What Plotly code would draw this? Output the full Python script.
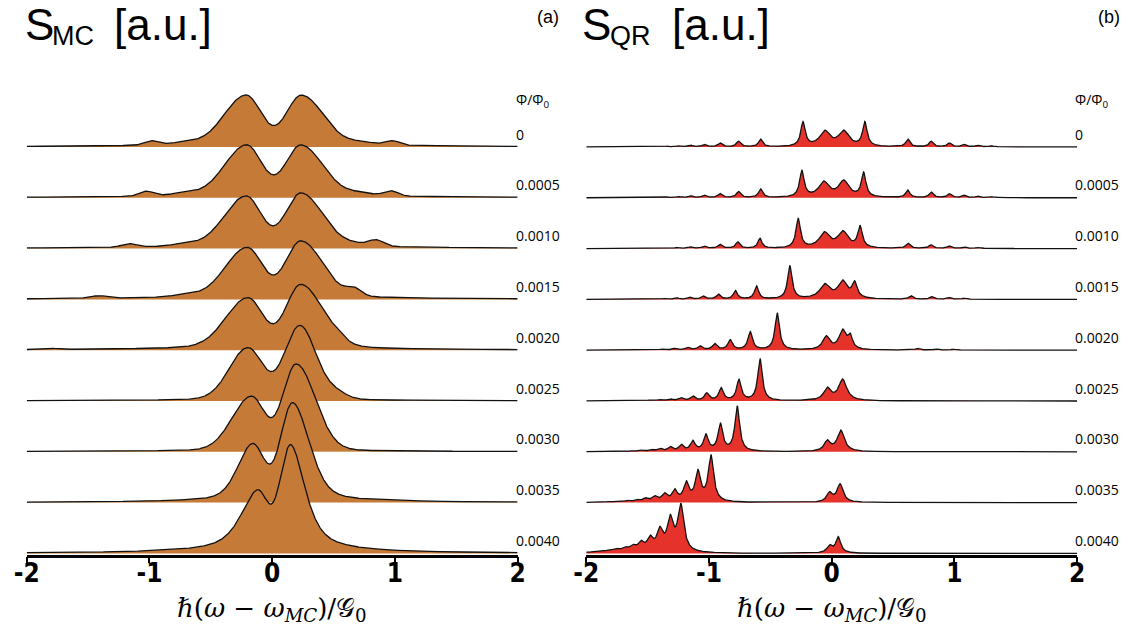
import numpy as np
import plotly.graph_objects as go

# ---------------- data ----------------
flux_labels = ["0", "0.0005", "0.0010", "0.0015", "0.0020", "0.0025", "0.0030", "0.0035", "0.0040"]
tick_vals = [-2, -1, 0, 1, 2]
tick_text = ["-2", "-1", "0", "1", "2"]

# S_MC spectra (one entry per flux row): two main lines, each with an outer and inner half-width
mc_peak_pos = [[-0.214, 0.240], [-0.210, 0.235], [-0.214, 0.235], [-0.205, 0.235], [-0.200, 0.235],
               [-0.200, 0.226], [-0.170, 0.196], [-0.160, 0.166], [-0.120, 0.150]]
mc_peak_amp = [[46.5, 46.5], [47.5, 47.5], [47.2, 50.3], [46.5, 53.2], [47.0, 60.5],
               [50.5, 72.8], [52.6, 85.0], [55.0, 96.0], [59.0, 104.5]]
mc_outer_hw = [[0.206, 0.206], [0.206, 0.206], [0.206, 0.206], [0.206, 0.206], [0.206, 0.206],
               [0.174, 0.153], [0.182, 0.182], [0.140, 0.160], [0.160, 0.140]]
mc_inner_hw = [0.141, 0.141, 0.141, 0.141, 0.141, 0.144, 0.127, 0.114, 0.102]
mc_outer_eta = [0.0, 0.0, 0.0, 0.0, 0.0, 0.0, 0.0, 0.3, 0.7]
mc_background = [6, 6, 6, 6, 6, 3, 3, 4, 4]
mc_bump_pos = [[-0.98, 0.98, -0.72, 0.74], [-1.026, 0.968, -0.72, 0.72], [-1.167, 0.848, -0.72, 0.70],
               [-1.416, 0.666, -0.72], [-1.83, 0.534], [0.52], [], [], []]
mc_bump_amp = [[4.3, 4.3, 2.0, 2.0], [4.7, 5.0, 2.0, 2.0], [3.4, 5.9, 2.0, 1.5],
               [2.5, 7.0, 1.8], [1.5, 3.5], [6.0], [], [], []]
mc_bump_hw = [[0.065, 0.065, 0.12, 0.12], [0.065, 0.065, 0.12, 0.12], [0.07, 0.07, 0.12, 0.12],
              [0.08, 0.07, 0.12], [0.08, 0.07], [0.106], [], [], []]

# S_QR spectra: Lorentzian line centres, heights and half-widths per flux row
qr_centers = [
    [-0.234, -0.056, 0.098, 0.27, -0.58, -0.76, -0.91, -1.04, -1.15, -1.25, -1.34, 0.62, 0.81, 0.96, 1.08, 1.19, 1.30, 1.40],
    [-0.243, -0.065, 0.098, 0.26, -0.58, -0.76, -0.91, -1.04, -1.15, -1.25, -1.34, 0.62, 0.81, 0.96, 1.08, 1.19, 1.30, 1.40],
    [-0.273, -0.059, 0.092, 0.231, -0.585, -0.766, -0.91, -1.04, -1.15, -1.26, -1.36, 0.622, 0.808, 0.957, 1.08, 1.19, 1.30],
    [-0.341, -0.056, 0.089, 0.187, -0.613, -0.785, -0.924, -1.049, -1.156, -1.26, -1.36, -1.45, 0.646, 0.818, 0.957, 1.08, 1.19],
    [-0.444, -0.664, -0.827, -0.954, -1.073, -1.176, -1.28, -1.38, -1.47, -0.044, 0.089, 0.151, 0.70, 0.853, 0.99, 1.12],
    [-0.584, -0.756, -0.901, -1.019, -1.132, -1.227, -1.316, -1.40, -1.48, -1.56, -0.036, 0.089, 0.79, 0.94, 1.06],
    [-0.770, -0.907, -1.025, -1.132, -1.227, -1.316, -1.40, -1.47, -1.55, -1.62, -1.69, -0.036, 0.074],
    [-0.984, -1.09, -1.185, -1.28, -1.363, -1.443, -1.517, -1.59, -1.665, -1.74, -1.81, -1.88, -0.018, 0.068],
    [-1.23, -1.316, -1.40, -1.479, -1.553, -1.621, -1.686, -1.754, -1.813, -1.873, -1.93, -1.99, -0.018, 0.053],
]
qr_heights = [
    [24, 15, 15, 24, 7.5, 5.5, 3.8, 2.4, 1.7, 1.1, 0.7, 7.5, 5.5, 3.8, 2.4, 1.7, 1.1, 0.7],
    [26, 15, 16, 24, 8.5, 6.0, 4.0, 2.6, 1.8, 1.1, 0.7, 7.5, 5.5, 3.8, 2.4, 1.6, 1.0, 0.6],
    [29, 15, 16, 21, 10, 6.5, 4.0, 2.5, 1.6, 1.0, 0.6, 5.0, 3.5, 2.5, 1.6, 1.1, 0.7],
    [33, 14, 17, 15, 13, 8.5, 5.0, 3.3, 2.0, 1.3, 0.8, 0.5, 3.5, 2.5, 1.8, 1.1, 0.7],
    [37, 18, 10, 6.3, 4.0, 2.5, 1.6, 1.0, 0.6, 13, 19, 12, 1.8, 1.3, 1.0, 0.7],
    [42, 21, 12.5, 7.3, 4.5, 2.8, 1.9, 1.2, 0.8, 0.5, 12, 21, 0.8, 0.8, 0.6],
    [45, 27, 16, 10, 6.3, 4.3, 2.8, 1.9, 1.3, 0.8, 0.5, 10, 21],
    [46, 29, 18, 11, 7.5, 5.0, 3.4, 2.3, 1.5, 1.0, 0.7, 0.5, 9, 18],
    [46, 31, 20, 12.5, 8.5, 5.5, 4.0, 2.8, 2.0, 1.4, 1.0, 0.8, 7, 16],
]
qr_widths = [
    [0.022, 0.05, 0.05, 0.022, 0.02, 0.02, 0.02, 0.02, 0.02, 0.02, 0.02, 0.02, 0.02, 0.02, 0.02, 0.02, 0.02, 0.02],
    [0.022, 0.05, 0.05, 0.022, 0.02, 0.02, 0.02, 0.02, 0.02, 0.02, 0.02, 0.02, 0.02, 0.02, 0.02, 0.02, 0.02, 0.02],
    [0.022, 0.05, 0.05, 0.022, 0.02, 0.02, 0.02, 0.02, 0.02, 0.02, 0.02, 0.02, 0.02, 0.02, 0.02, 0.02, 0.02],
    [0.022, 0.05, 0.045, 0.025, 0.02, 0.02, 0.02, 0.02, 0.02, 0.02, 0.02, 0.02, 0.02, 0.02, 0.02, 0.02, 0.02],
    [0.022, 0.022, 0.022, 0.022, 0.022, 0.022, 0.022, 0.022, 0.022, 0.035, 0.035, 0.022, 0.02, 0.02, 0.02, 0.02],
    [0.022, 0.022, 0.022, 0.022, 0.022, 0.022, 0.022, 0.022, 0.022, 0.022, 0.035, 0.04, 0.02, 0.02, 0.02],
    [0.023, 0.023, 0.023, 0.023, 0.023, 0.023, 0.023, 0.023, 0.023, 0.023, 0.023, 0.03, 0.035],
    [0.026, 0.026, 0.026, 0.026, 0.026, 0.026, 0.026, 0.026, 0.026, 0.026, 0.026, 0.026, 0.028, 0.03],
    [0.03, 0.03, 0.03, 0.03, 0.03, 0.03, 0.03, 0.03, 0.03, 0.03, 0.03, 0.03, 0.025, 0.025],
]

# ---------------- layout constants ----------------
W, H = 1145, 634
AXIS_PX = 554.5        # pixel row of the x axis line
TOP_BASE = 407.5       # data height of first baseline above the axis
ROW_STEP = 50.8
LEFT_DOM = (14.0, 514.0)
RIGHT_DOM = (584.0, 1084.0)
MC_FILL = "#C57A37"
QR_FILL = "#E5332B"
LN2 = np.log(2.0)

x = np.linspace(-2, 2, 2401)


def mc_profile(k):
    y = mc_background[k] / (1.0 + (x / 0.7) ** 2)
    for c, a, hwo in zip(mc_peak_pos[k], mc_peak_amp[k], mc_outer_hw[k]):
        d = x - c
        to = d / hwo
        outer = mc_outer_eta[k] / (1 + to ** 2) + (1 - mc_outer_eta[k]) * np.exp(-LN2 * to ** 2)
        inner = np.exp(-LN2 * (d / mc_inner_hw[k]) ** 2)
        is_outer = (d < 0) if c < 0 else (d > 0)
        y += a * np.where(is_outer, outer, inner)
    for c, a, hw in zip(mc_bump_pos[k], mc_bump_amp[k], mc_bump_hw[k]):
        y += a * np.exp(-LN2 * ((x - c) / hw) ** 2)
    return y


def qr_profile(k):
    y = np.zeros_like(x)
    for c, h, w in zip(qr_centers[k], qr_heights[k], qr_widths[k]):
        y += h / (1.0 + ((x - c) / w) ** 2)
    return y


fig = go.Figure()


def add_panel(profile, nrows, fill, xa, ya):
    for k in range(nrows):
        base = TOP_BASE - k * ROW_STEP
        y = base + profile(k)
        fig.add_trace(go.Scatter(
            x=np.concatenate([x, x[::-1]]),
            y=np.concatenate([y, np.full_like(x, base)]),
            fill="toself", fillcolor=fill, mode="lines",
            line=dict(width=0, color=fill), hoverinfo="skip",
            showlegend=False, xaxis=xa, yaxis=ya))
        fig.add_trace(go.Scatter(
            x=x, y=y, mode="lines",
            line=dict(width=1.3, color="#111111"), hoverinfo="skip",
            showlegend=False, xaxis=xa, yaxis=ya))


add_panel(mc_profile, len(flux_labels), MC_FILL, "x", "y")
add_panel(qr_profile, len(flux_labels), QR_FILL, "x2", "y2")

tick_font = dict(family="Liberation Sans Narrow, DejaVu Sans Condensed, Arial Narrow, sans-serif",
                 size=26, color="black", weight="bold")
xcommon = dict(range=[-2, 2], tickvals=tick_vals, ticktext=tick_text, showline=True,
               linecolor="black", linewidth=2.5, ticks="outside", ticklen=6, tickwidth=2,
               tickcolor="black", showgrid=False, zeroline=False, tickfont=tick_font,
               ticklabelstandoff=-12, fixedrange=True)
ydom = [(H - AXIS_PX) / H, 1.0]
ycommon = dict(range=[0, AXIS_PX], visible=False, showgrid=False, zeroline=False, fixedrange=True)

fig.update_layout(
    width=W, height=H,
    margin=dict(l=0, r=0, t=0, b=0),
    paper_bgcolor="white", plot_bgcolor="white",
    xaxis=dict(domain=[LEFT_DOM[0] / W, LEFT_DOM[1] / W], anchor="y", **xcommon),
    yaxis=dict(domain=ydom, anchor="x", **ycommon),
    xaxis2=dict(domain=[RIGHT_DOM[0] / W, RIGHT_DOM[1] / W], anchor="y2", **xcommon),
    yaxis2=dict(domain=ydom, anchor="x2", **ycommon),
)


def px_ann(text, px, py, size, family, xanchor="left", yanchor="middle"):
    fig.add_annotation(text=text, x=px / W, y=1 - py / H, xref="paper", yref="paper",
                       xanchor=xanchor, yanchor=yanchor, showarrow=False,
                       font=dict(size=size, family=family, color="black"), borderpad=0)


sans = "Liberation Sans, Arial, sans-serif"
lab = "Open Sans, Noto Sans, sans-serif"
serif = "DejaVu Serif, Liberation Serif, serif"

# panel titles
for x0, sub in [(11, "MC"), (579, "QR")]:
    px_ann("S", x0, 25, 44, sans)
    px_ann(sub, x0 + 28, 36, 27, sans)
    px_ann("[a.u.]", x0 + 91, 25, 44, sans)

px_ann("(a)", 545, 17, 18, sans, xanchor="center")
px_ann("(b)", 1116, 17, 18, sans, xanchor="center")

# flux labels
for left_px in (LEFT_DOM[1] - 3, RIGHT_DOM[1] - 3):
    px_ann("Φ/Φ<sub>0</sub>", left_px, 100, 14, lab)
    for k, t in enumerate(flux_labels):
        base_px = AXIS_PX - (TOP_BASE - k * ROW_STEP)
        px_ann(t, left_px, base_px - 13, 14, lab)

# x axis titles
xlabel = "ℏ(<i>ω</i> − <i>ω</i><sub><i>MC</i></sub>)/𝒢<sub>0</sub>"
px_ann(xlabel, sum(LEFT_DOM) / 2, 609, 26, serif, xanchor="center")
px_ann(xlabel, sum(RIGHT_DOM) / 2, 609, 26, serif, xanchor="center")

fig.write_html("out.html", config={"displayModeBar": False},
               post_script="document.body.style.margin='0px';document.body.style.overflow='hidden';")
